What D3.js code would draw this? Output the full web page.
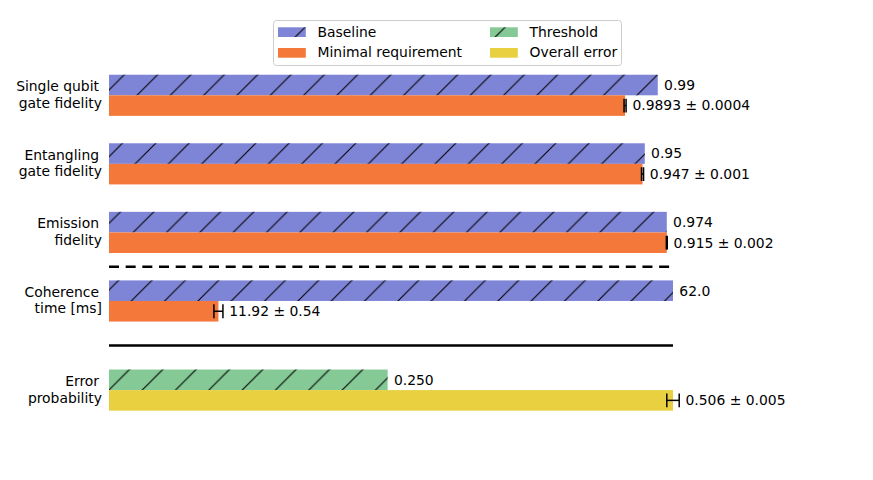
<!DOCTYPE html>
<html>
<head>
<meta charset="utf-8">
<script src="https://cdn.jsdelivr.net/npm/d3@7"></script>
<style>
  body { margin: 0; background: #fff; }
  text { font-family: "DejaVu Sans", sans-serif; font-size: 13.9px; fill: #000; }
</style>
</head>
<body>
<svg id="chart" width="873" height="480"></svg>
<script>
// rows of the chart, top to bottom
const categories = [
  ["Single qubit", "gate fidelity"],
  ["Entangling", "gate fidelity"],
  ["Emission", "fidelity"],
  ["Coherence", "time [ms]"],
  ["Error", "probability"]
]
const rowPos = [0, 1, 2, 3, 4.3]

// bar lengths as drawn (fraction of full width) and their labels
const baselineBar = [0.973, 0.950, 0.989, 1.0]
const baselineLabel = ["0.99", "0.95", "0.974", "62.0"]
const requirementBar = [0.915, 0.946, 0.989, 0.194]
const requirementErr = [0.0018, 0.0018, 0.0008, 0.008]
const requirementLabel = ["0.9893 ± 0.0004", "0.947 ± 0.001", "0.915 ± 0.002", "11.92 ± 0.54"]
const thresholdBar = [0.494]
const thresholdLabel = ["0.250"]
const overallBar = [1.0]
const overallErr = [0.011]
const overallLabel = ["0.506 ± 0.005"]

const dashedAt = 2.5
const solidAt = 3.65

const colors = {
  baseline: "#7f85d6",
  requirement: "#f47839",
  threshold: "#85ca96",
  overall: "#e8d040"
}

const barH = 0.3
const svg = d3.select("#chart")

const x = d3.scaleLinear().domain([0, 1]).range([109, 673])
const y = d3.scaleLinear().domain([0, 4.3]).range([95.3, 390.1])
const unit = y(1) - y(0)

// '/' hatch, anchored to the page
const hs = 33.33
const pat = svg.append("defs").append("pattern")
  .attr("id", "hatch")
  .attr("patternUnits", "userSpaceOnUse")
  .attr("width", hs).attr("height", hs)
  .attr("x", -1).attr("y", 0)
for (let k = 0; k <= 2; k++) {
  pat.append("line")
    .attr("x1", -hs).attr("y1", k * hs + hs)
    .attr("x2", k * hs + hs).attr("y2", -hs)
    .attr("stroke", "#000").attr("stroke-width", 1.1)
}

function hatched(g, xPos, yPos, w, h, fill) {
  g.append("rect").attr("x", xPos).attr("y", yPos).attr("width", w).attr("height", h)
    .attr("fill", fill)
  g.append("rect").attr("x", xPos).attr("y", yPos).attr("width", w).attr("height", h)
    .attr("fill", "url(#hatch)")
}

const plot = svg.append("g")

function drawBar(row, sub, len, fill, hatch, label, err) {
  const top = y(rowPos[row]) + (sub == 0 ? -barH : 0) * unit
  const h = barH * unit
  if (hatch) {
    hatched(plot, x(0), top, x(len) - x(0), h, fill)
  } else {
    plot.append("rect").attr("x", x(0)).attr("y", top)
      .attr("width", x(len) - x(0)).attr("height", h).attr("fill", fill)
  }
  const cy = top + h / 2
  let end = x(len)
  if (err != null) {
    const cap = 6.9
    plot.append("line").attr("x1", x(len - err)).attr("x2", x(len + err))
      .attr("y1", cy).attr("y2", cy).attr("stroke", "#000").attr("stroke-width", 1.5)
    ;[len - err, len + err].forEach(v => {
      plot.append("line").attr("x1", x(v)).attr("x2", x(v))
        .attr("y1", cy - cap).attr("y2", cy + cap)
        .attr("stroke", "#000").attr("stroke-width", 1.5)
    })
    end = x(len + err)
  }
  plot.append("text").attr("x", end + 6.3).attr("y", cy + 4.9).text(label)
}

baselineBar.forEach((v, i) => {
  drawBar(i, 0, v, colors.baseline, true, baselineLabel[i], null)
  drawBar(i, 1, requirementBar[i], colors.requirement, false, requirementLabel[i], requirementErr[i])
})
drawBar(4, 0, thresholdBar[0], colors.threshold, true, thresholdLabel[0], null)
drawBar(4, 1, overallBar[0], colors.overall, false, overallLabel[0], overallErr[0])

// separators
plot.append("line").attr("x1", x(0)).attr("x2", x(1))
  .attr("y1", y(dashedAt)).attr("y2", y(dashedAt))
  .attr("stroke", "#000").attr("stroke-width", 2.6).attr("stroke-dasharray", "10,6.67")
plot.append("line").attr("x1", x(0)).attr("x2", x(1))
  .attr("y1", y(solidAt)).attr("y2", y(solidAt))
  .attr("stroke", "#000").attr("stroke-width", 2.6)

// category labels
categories.forEach((lines, i) => {
  const c = y(rowPos[i])
  const t = plot.append("text").attr("text-anchor", "end")
  t.append("tspan").attr("x", 99).attr("y", c - 4.3).text(lines[0])
  t.append("tspan").attr("x", 102).attr("y", c + 12.4).text(lines[1])
})

// legend
const legend = svg.append("g")
legend.append("rect").attr("x", 273.5).attr("y", 20.5).attr("width", 348).attr("height", 45)
  .attr("rx", 3).attr("fill", "#fff").attr("fill-opacity", 0.8)
  .attr("stroke", "#cccccc").attr("stroke-width", 1)
const legendItems = [
  { name: "Baseline", fill: colors.baseline, hatch: true, lx: 278, ly: 27.3 },
  { name: "Minimal requirement", fill: colors.requirement, hatch: false, lx: 278, ly: 48 },
  { name: "Threshold", fill: colors.threshold, hatch: true, lx: 490, ly: 27.3 },
  { name: "Overall error", fill: colors.overall, hatch: false, lx: 490, ly: 48 }
]
legendItems.forEach(d => {
  if (d.hatch) {
    hatched(legend, d.lx, d.ly, 27.8, 9.7, d.fill)
  } else {
    legend.append("rect").attr("x", d.lx).attr("y", d.ly).attr("width", 27.8).attr("height", 9.7)
      .attr("fill", d.fill)
  }
  legend.append("text").attr("x", d.lx + 39.5).attr("y", d.ly + 9.4).text(d.name)
})
</script>
</body>
</html>
